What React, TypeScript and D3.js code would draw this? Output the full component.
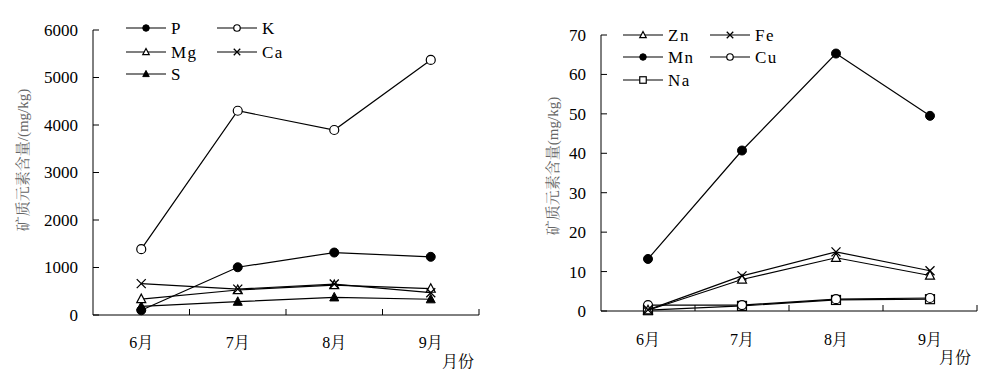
import React from "react";
import * as d3 from "d3";

const months = ["6月", "7月", "8月", "9月"];

const leftTicks = [0, 1000, 2000, 3000, 4000, 5000, 6000];
const P = [100, 1005, 1315, 1225];
const K = [1385, 4300, 3895, 5370];
const Mg = [335, 526, 630, 555];
const Ca = [660, 545, 652, 470];
const S = [180, 280, 372, 332];

const rightTicks = [0, 10, 20, 30, 40, 50, 60, 70];
const Zn = [0.2, 8.0, 13.5, 9.0];
const Fe = [0.3, 8.9, 15.0, 10.2];
const Mn = [13.2, 40.7, 65.3, 49.5];
const Cu = [1.5, 1.5, 3.0, 3.3];
const Na = [0.2, 1.3, 2.8, 3.0];

type MarkerType = "filledCircle" | "openCircle" | "openTri" | "filledTri" | "cross" | "square";

const FONT = "Liberation Serif, Times New Roman, Noto Serif CJK SC, serif";
const fontStyle = { fontFamily: FONT };

function Marker({ type, x, y, s }: { type: MarkerType; x: number; y: number; s: number }) {
  const r = s / 2;
  switch (type) {
    case "filledCircle":
      return <circle cx={x} cy={y} r={r} fill="black" stroke="black" strokeWidth={1} />;
    case "openCircle":
      return <circle cx={x} cy={y} r={r} fill="white" stroke="black" strokeWidth={1.2} />;
    case "openTri":
      return (
        <path
          d={`M${x},${y - r * 1.1}L${x + r},${y + r * 0.8}L${x - r},${y + r * 0.8}Z`}
          fill="white"
          stroke="black"
          strokeWidth={1.2}
        />
      );
    case "filledTri":
      return (
        <path
          d={`M${x},${y - r * 1.1}L${x + r},${y + r * 0.8}L${x - r},${y + r * 0.8}Z`}
          fill="black"
          stroke="black"
          strokeWidth={1}
        />
      );
    case "cross":
      return (
        <path
          d={`M${x - r},${y - r}L${x + r},${y + r}M${x - r},${y + r}L${x + r},${y - r}`}
          fill="none"
          stroke="black"
          strokeWidth={1.3}
        />
      );
    case "square":
      return (
        <rect x={x - r} y={y - r} width={s} height={s} fill="white" stroke="black" strokeWidth={1.2} />
      );
  }
}

type Series = { name: string; values: number[]; marker: MarkerType };

type PanelProps = {
  x0: number;
  x1: number;
  yTop: number;
  yBottom: number;
  ticks: number[];
  series: Series[];
  drawOrder: number[];
  yLabel: string;
  yLabelX: number;
  yLabelY: number;
  legendX: number[];
  legendY: number[];
  legendLayout: [number, number][];
  xLabelY: number;
  unitX: number;
  unitY: number;
};

function Panel(p: PanelProps) {
  const yMax = p.ticks[p.ticks.length - 1];
  const y = d3.scaleLinear().domain([0, yMax]).range([p.yBottom, p.yTop]);
  const xb = d3.scaleBand<string>().domain(months).range([p.x0, p.x1]).padding(0);
  const cx = (m: string) => (xb(m) as number) + xb.bandwidth() / 2;
  const line = d3
    .line<number>()
    .x((_, i) => cx(months[i]))
    .y((v) => y(v));

  const bandEdges = months.map((m) => (xb(m) as number) + xb.bandwidth());

  return (
    <g>
      <line x1={p.x0} x2={p.x0} y1={p.yTop} y2={p.yBottom} stroke="black" strokeWidth={1} />
      <line x1={p.x0} x2={p.x1} y1={p.yBottom} y2={p.yBottom} stroke="black" strokeWidth={1} />
      {p.ticks.map((t) => (
        <g key={t}>
          <line x1={p.x0} x2={p.x0 + 6} y1={y(t)} y2={y(t)} stroke="black" strokeWidth={1} />
          <text x={p.x0 - 15} y={y(t)} dy="0.35em" textAnchor="end" fontSize={17} style={fontStyle}>
            {t}
          </text>
        </g>
      ))}
      {bandEdges.map((e, i) => (
        <line key={i} x1={e} x2={e} y1={p.yBottom} y2={p.yBottom - 6} stroke="black" strokeWidth={1} />
      ))}
      {months.map((m) => (
        <text key={m} x={cx(m)} y={p.xLabelY} textAnchor="middle" fontSize={16} style={fontStyle}>
          {m}
        </text>
      ))}
      <text x={p.unitX} y={p.unitY} textAnchor="middle" fontSize={16} style={fontStyle}>
        月份
      </text>
      <text
        transform={`translate(${p.yLabelX},${p.yLabelY}) rotate(-90)`}
        textAnchor="middle"
        fontSize={15}
        fill="#666"
        dy="0.35em"
        style={fontStyle}
      >
        {p.yLabel}
      </text>
      {p.drawOrder.map((si) => {
        const s = p.series[si];
        return (
          <g key={s.name}>
            <path d={line(s.values) || ""} fill="none" stroke="black" strokeWidth={1.2} />
            {s.values.map((v, i) => (
              <Marker key={i} type={s.marker} x={cx(months[i])} y={y(v)} s={9} />
            ))}
          </g>
        );
      })}
      {p.series.map((s, i) => {
        const [row, col] = p.legendLayout[i];
        const lx = p.legendX[col];
        const ly = p.legendY[row];
        return (
          <g key={s.name}>
            <line x1={lx} x2={lx + 40} y1={ly} y2={ly} stroke="black" strokeWidth={1.2} />
            <Marker type={s.marker} x={lx + 20} y={ly} s={6.5} />
            <text
              x={lx + 45}
              y={ly}
              dy="0.33em"
              fontSize={17}
              letterSpacing={s.name.length > 1 ? 1.5 : 0}
              style={fontStyle}
            >
              {s.name}
            </text>
          </g>
        );
      })}
    </g>
  );
}

export default function App() {
  const leftSeries: Series[] = [
    { name: "P", values: P, marker: "filledCircle" },
    { name: "K", values: K, marker: "openCircle" },
    { name: "Mg", values: Mg, marker: "openTri" },
    { name: "Ca", values: Ca, marker: "cross" },
    { name: "S", values: S, marker: "filledTri" },
  ];
  const rightSeries: Series[] = [
    { name: "Zn", values: Zn, marker: "openTri" },
    { name: "Fe", values: Fe, marker: "cross" },
    { name: "Mn", values: Mn, marker: "filledCircle" },
    { name: "Cu", values: Cu, marker: "openCircle" },
    { name: "Na", values: Na, marker: "square" },
  ];
  const layout: [number, number][] = [
    [0, 0],
    [0, 1],
    [1, 0],
    [1, 1],
    [2, 0],
  ];
  return (
    <svg
      width={998}
      height={377}
      style={{ position: "absolute", left: 0, top: 0, background: "white", fontFamily: FONT }}
    >
      <rect width={998} height={377} fill="white" />
      <Panel
        x0={93}
        x1={479}
        yTop={30}
        yBottom={315}
        ticks={leftTicks}
        series={leftSeries}
        drawOrder={[4, 2, 3, 0, 1]}
        yLabel="矿质元素含量/(mg/kg)"
        yLabelX={23}
        yLabelY={160}
        legendX={[126, 217]}
        legendY={[28, 52, 74]}
        legendLayout={layout}
        xLabelY={348}
        unitX={458}
        unitY={367}
      />
      <Panel
        x0={601}
        x1={977}
        yTop={35}
        yBottom={311}
        ticks={rightTicks}
        series={rightSeries}
        drawOrder={[4, 3, 0, 1, 2]}
        yLabel="矿质元素含量(mg/kg)"
        yLabelX={553}
        yLabelY={166}
        legendX={[623, 710]}
        legendY={[35, 57, 80]}
        legendLayout={layout}
        xLabelY={345}
        unitX={955}
        unitY={363}
      />
    </svg>
  );
}
